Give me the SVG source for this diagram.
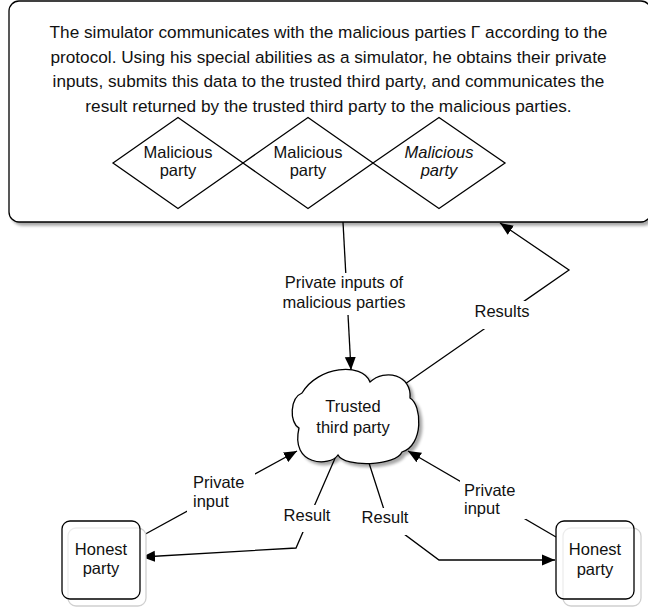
<svg xmlns="http://www.w3.org/2000/svg" width="648" height="607" viewBox="0 0 648 607">
<style>
text{font-family:"Liberation Sans",Arial,Helvetica,sans-serif;font-size:16.5px;fill:#111}
.c{text-anchor:middle}
.s{text-anchor:start}
.it{font-style:italic}
.big{font-size:17.2px}
.ln{fill:none;stroke:#000;stroke-width:1.3}
.bg{fill:#fff;stroke:none}
.shape{fill:#fff;stroke:#000;stroke-width:1.3}
.ghost{fill:#fff;stroke:#d0d0d0;stroke-width:1.3}
</style>
<defs>
<filter id="sh" x="-10%" y="-10%" width="130%" height="130%">
<feGaussianBlur in="SourceAlpha" stdDeviation="1.8"/>
<feOffset dx="3" dy="3" result="b"/>
<feComponentTransfer><feFuncA type="linear" slope="0.35"/></feComponentTransfer>
<feMerge><feMergeNode/><feMergeNode in="SourceGraphic"/></feMerge>
</filter>
<marker id="arr" markerUnits="userSpaceOnUse" markerWidth="14" markerHeight="12" refX="13" refY="6" orient="auto">
<path d="M0,0.5 L13,6 L0,11.5 Z" fill="#000"/>
</marker>
</defs>
<rect width="648" height="607" fill="#fff"/>

<g id="simulator">
<rect x="9" y="1" width="642" height="221" rx="10" ry="10" class="shape" filter="url(#sh)"/>
<text class="c big" x="328.5" y="38">The simulator communicates with the malicious parties Γ according to the</text>
<text class="c big" x="328.5" y="62.7">protocol. Using his special abilities as a simulator, he obtains their private</text>
<text class="c big" x="328.5" y="87.4">inputs, submits this data to the trusted third party, and communicates the</text>
<text class="c big" x="328.5" y="112">result returned by the trusted third party to the malicious parties.</text>
</g>

<g id="malicious1">
<path d="M113,163 L178,117.5 L243,163 L178,208.5 Z" class="shape"/>
<text class="c" x="178" y="157.7">Malicious</text>
<text class="c" x="178" y="176">party</text>
</g>
<g id="malicious2">
<path d="M243,163 L308,117.5 L373,163 L308,208.5 Z" class="shape"/>
<text class="c" x="308" y="157.7">Malicious</text>
<text class="c" x="308" y="176">party</text>
</g>
<g id="malicious3">
<path d="M373,163 L439,117.5 L505,163 L439,208.5 Z" class="shape"/>
<text class="c it" x="439" y="157.7">Malicious</text>
<text class="c it" x="439" y="176">party</text>
</g>

<g id="connectors">
<path class="ln" d="M343,222 L351,370" marker-end="url(#arr)"/>
<path class="ln" d="M405,384 L569,270 L500,223" marker-end="url(#arr)"/>
<path class="ln" d="M140,537 L297,451" marker-end="url(#arr)"/>
<path class="ln" d="M556,537 L408,451" marker-end="url(#arr)"/>
<path class="ln" d="M336,456 L296,548 L142,557" marker-end="url(#arr)"/>
<path class="ln" d="M369,463 L388,522 L439,560 L555,560" marker-end="url(#arr)"/>
</g>

<g id="ttp">
<path class="shape" filter="url(#sh)" d="M302,393 C318,366 362,362 370,382 C385,368 412,375 410,398 C422,405 424,445 402,452 C396,466 345,468 338,455 C330,467 290,466 299,428 C289,422 290,398 302,393 Z"/>
<text class="c" x="353" y="412">Trusted</text>
<text class="c" x="353" y="433">third party</text>
</g>

<g id="honest-left">
<rect x="68" y="528" width="78" height="78" rx="8" class="ghost"/>
<rect x="62" y="521" width="78" height="78" rx="8" class="shape" fill-opacity="0.6"/>
<text class="c" x="101" y="555">Honest</text>
<text class="c" x="101" y="574">party</text>
</g>
<g id="honest-right">
<rect x="563" y="528" width="78" height="78" rx="8" class="ghost"/>
<rect x="556" y="521" width="78" height="78" rx="8" class="shape" fill-opacity="0.6"/>
<text class="c" x="595" y="555">Honest</text>
<text class="c" x="595" y="575">party</text>
</g>

<g id="labels">
<rect class="bg" x="278" y="273" width="133" height="42"/>
<text class="c" x="344" y="288">Private inputs of</text>
<text class="c" x="344" y="308">malicious parties</text>
<rect class="bg" x="470" y="301" width="63" height="28"/>
<text class="c" x="502" y="317">Results</text>
<rect class="bg" x="187" y="472" width="68" height="42"/>
<text class="s" x="193" y="488">Private</text>
<text class="s" x="193" y="507">input</text>
<rect class="bg" x="460" y="480" width="66" height="39"/>
<text class="s" x="464" y="496">Private</text>
<text class="s" x="464" y="514">input</text>
<rect class="bg" x="281" y="505" width="52" height="27"/>
<text class="c" x="307" y="521">Result</text>
<rect class="bg" x="359" y="508" width="52" height="27"/>
<text class="c" x="385" y="523">Result</text>
</g>
</svg>
